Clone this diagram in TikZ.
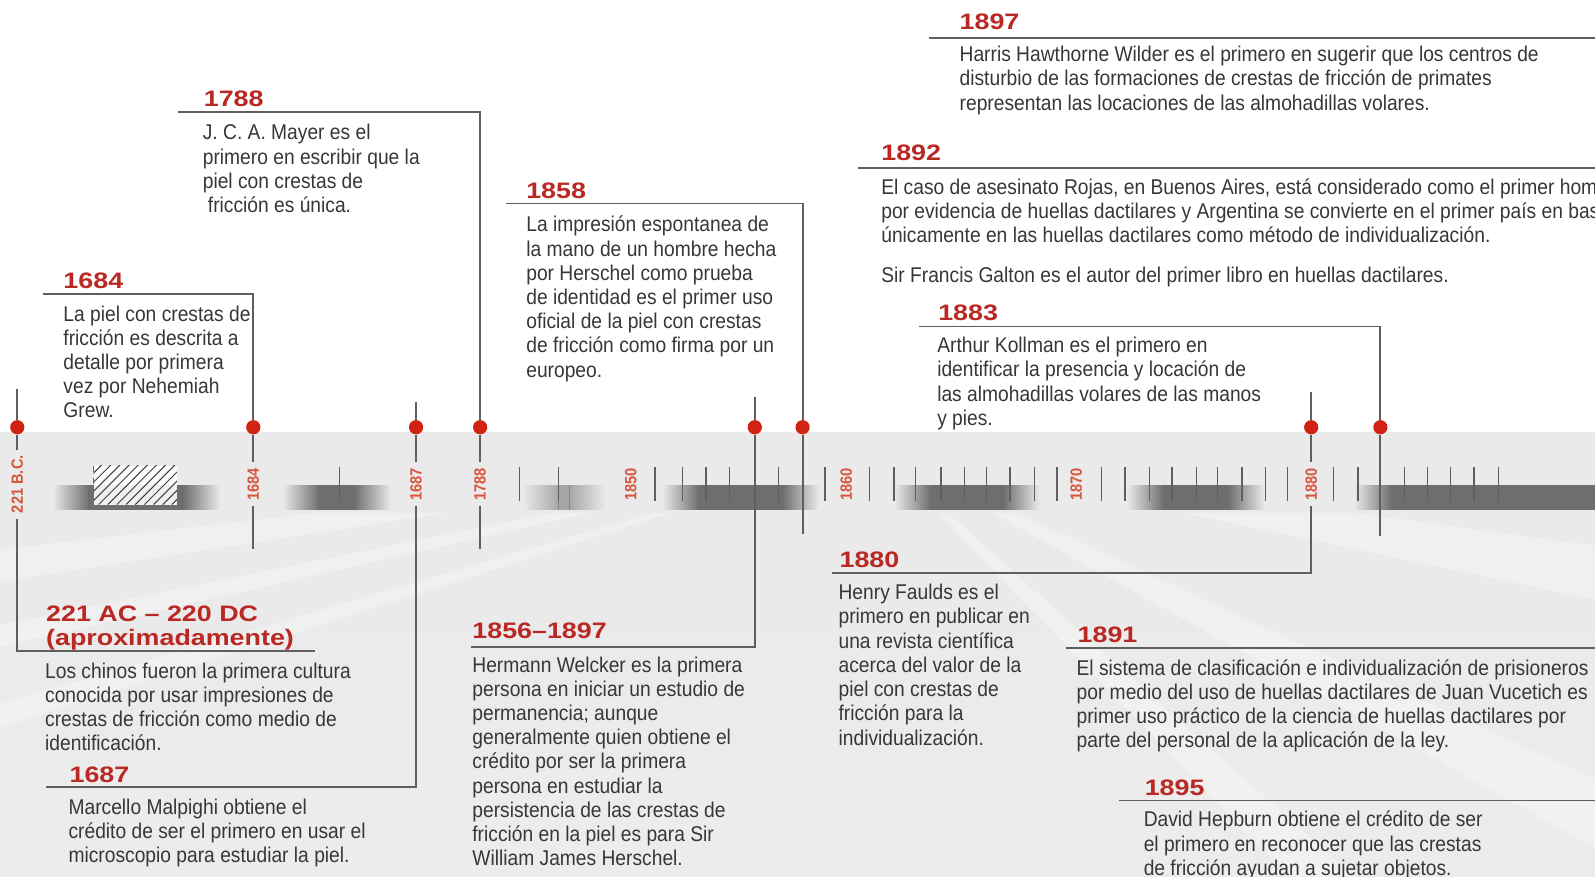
\documentclass[tikz,border=0pt]{standalone}
\usepackage{fontspec}
\setmainfont{Liberation Sans}[FakeStretch=0.9]
\newfontfamily\yearfont{Liberation Sans}[FakeStretch=1.2]
\newfontfamily\labfont{Liberation Sans}[FakeStretch=0.9]
\usetikzlibrary{fadings}
\definecolor{yearred}{RGB}{185,40,35}
\definecolor{txt}{RGB}{55,55,55}
\definecolor{ln}{RGB}{95,95,95}
\definecolor{dotred}{RGB}{208,35,20}
\definecolor{labred}{RGB}{215,85,60}
\definecolor{barc}{RGB}{110,110,110}
\definecolor{bgA}{RGB}{238,238,238}
\definecolor{bgB}{RGB}{234,234,234}
\definecolor{bgC}{RGB}{226,226,226}
\definecolor{bgD}{RGB}{214,214,214}
\definecolor{bgF}{RGB}{242,242,242}
\pgfdeclareverticalshading{bandsh}{100bp}{color(0bp)=(bgA); color(60bp)=(bgB); color(77bp)=(bgB); color(82bp)=(bgC); color(88bp)=(bgD); color(93bp)=(bgC); color(97bp)=(bgF); color(100bp)=(white)}
\tikzfading[name=fadeR, left color=transparent!100, right color=transparent!0]
\tikzfading[name=fadeL, left color=transparent!0, right color=transparent!100]
\pgfdeclarelayer{bg}
\pgfdeclarelayer{lines}
\pgfsetlayers{bg,lines,main}
\newcommand{\dbar}[2]{%
  \fill[barc, path fading=fadeR] (#1,477) rectangle (#1+36,501);
  \fill[barc] (#1+35,477) rectangle (#2-35,501);
  \fill[barc, path fading=fadeL] (#2-36,477) rectangle (#2,501);}
\tikzset{
  year/.style={font=\yearfont\bfseries\fontsize{11}{13}\selectfont, text=yearred, anchor=base west, inner sep=0pt},
  body/.style={font=\fontsize{10.5}{11.9}\selectfont, text=txt, align=left, anchor=north west, inner sep=0pt, execute at begin node={\rule{0pt}{9pt}}},
  dot/.style={circle, fill=dotred, minimum size=7pt, inner sep=0pt},
  lab/.style={font=\labfont\bfseries\fontsize{8}{9}\selectfont, text=labred, rotate=90, inner sep=2.5pt},
  conn/.style={draw=ln, line width=0.9pt},
  tickmark/.style={draw=ln, line width=0.65pt},
}
\begin{document}
\begin{tikzpicture}[x=0.5pt,y=-0.5pt]
\useasboundingbox (0,0) rectangle (1568,862);
% ---------- background ----------
\begin{pgfonlayer}{bg}
\fill[white] (0,0) rectangle (1568,862);
\shade[shading=bandsh] (0,425) rectangle (1568,862);
\begin{scope}
  \clip (0,505) rectangle (1568,862);
  \foreach \a/\b in {140/142,147/149,153/156,160/162,166/168,172/174,177/179,4/6,11/13,18/20,26/28,34/36}
    \fill[white, opacity=0.3] (860,440) -- (\a:1800) -- (\b:1800) -- cycle;
\end{scope}
\dbar{52}{216}
\dbar{278}{384}
\begin{scope}[opacity=0.55]\dbar{514}{595}\end{scope}
\dbar{651}{805}
\dbar{879}{1022}
\dbar{1108}{1243}
\fill[barc, path fading=fadeR] (1331,477) rectangle (1368,501);
\fill[barc] (1367,477) rectangle (1568,501);
% hatch box
\begin{scope}
  \clip (92,458) rectangle (174,496);
  \fill[white, opacity=0.9] (92,458) rectangle (174,496);
  \foreach \i in {0,...,14}
    \draw[black!75, line width=0.5pt] (52+\i*9,496) -- ++(40,-40);
\end{scope}
\draw[black!60, line width=0.4pt, dashed] (92,458) -- (92,496);
% ticks
\foreach \x in {334,511,549,644,671,694,717,765,811,855,879,900,925,948,970,993,1017,1039,1083,1106,1130,1152,1176,1197,1221,1244,1266,1311,1335,1381,1403,1426,1449,1473}
  \draw[tickmark] (\x,459) -- (\x,493);
\end{pgfonlayer}

% ---------- dots ----------
\node[dot] (d221) at (17,420) {};
\node[dot] (d1684) at (249,420) {};
\node[dot] (d1687) at (409,420) {};
\node[dot] (d1788) at (472,420) {};
\node[dot] (d1856) at (742,420) {};
\node[dot] (d1858) at (789,420) {};
\node[dot] (d1880) at (1289,420) {};
\node[dot] (d1883) at (1357,420) {};

% ---------- band labels ----------
\node[lab] (l221) at (17,476) {221 B.C.};
\node[lab] (l1684) at (249,476) {1684};
\node[lab] (l1687) at (409,476) {1687};
\node[lab] (l1788) at (472,476) {1788};
\node[lab] (l1850) at (620,476) {1850};
\node[lab] (l1860) at (832,476) {1860};
\node[lab] (l1870) at (1058,476) {1870};
\node[lab] (l1880) at (1289,476) {1880};

% ---------- coordinates ----------
\coordinate (s221) at (17,382);
\coordinate (k221) at (310,640);
\coordinate (s1687) at (409,395);
\coordinate (k1687) at (45,774);
\coordinate (h1684) at (42,289);
\coordinate (e1684) at (249,540);
\coordinate (h1788) at (175,110);
\coordinate (e1788) at (472,540);
\coordinate (s1856) at (742,390);
\coordinate (k1856) at (463,636);
\coordinate (h1858) at (497,200);
\coordinate (e1858) at (789,525);
\coordinate (s1880) at (1289,385);
\coordinate (k1880) at (818,563);
\coordinate (h1883) at (903,321);
\coordinate (e1883) at (1357,527);
\coordinate (h1897a) at (913,37);
\coordinate (h1897b) at (1568,37);
\coordinate (h1892a) at (843,165);
\coordinate (h1892b) at (1568,165);
\coordinate (h1891a) at (1048,637);
\coordinate (h1891b) at (1568,637);
\coordinate (h1895a) at (1100,787);
\coordinate (h1895b) at (1568,787);

% ---------- texts ----------
\node[year] (t1897) at (943,29) {1897};
\node[body] (b1897) at (943,45) {Harris Hawthorne Wilder es el primero en sugerir que los centros de\\disturbio de las formaciones de crestas de fricción de primates\\representan las locaciones de las almohadillas volares.};

\node[year] (t1892) at (866,158) {1892};
\node[body] (b1892) at (866,175) {El caso de asesinato Rojas, en Buenos Aires, está considerado como el primer homi\\por evidencia de huellas dactilares y Argentina se convierte en el primer país en bas\\únicamente en las huellas dactilares como método de individualización.\\[7.5pt]Sir Francis Galton es el autor del primer libro en huellas dactilares.};

\node[year] (t1883) at (922,315) {1883};
\node[body] (b1883) at (921,331) {Arthur Kollman es el primero en\\identificar la presencia y locación de\\las almohadillas volares de las manos\\y pies.};

\node[year] (t1788) at (200,105) {1788};
\node[body] (b1788) at (199,122) {J. C. A. Mayer es el\\primero en escribir que la\\piel con crestas de\\\hspace*{2.5pt}fricción es única.};

\node[year] (t1858) at (517,195) {1858};
\node[body] (b1858) at (517,212) {La impresión espontanea de\\la mano de un hombre hecha\\por Herschel como prueba\\de identidad es el primer uso\\oficial de la piel con crestas\\de fricción como firma por un\\europeo.};

\node[year] (t1684) at (62,284) {1684};
\node[body] (b1684) at (62,300) {La piel con crestas de\\fricción es descrita a\\detalle por primera\\vez por Nehemiah\\Grew.};

\node[year] (t221a) at (45,611) {221 AC – 220 DC};
\node[year] (t221b) at (45,635) {(aproximadamente)};
\node[body] (b221) at (44,651) {Los chinos fueron la primera cultura\\conocida por usar impresiones de\\crestas de fricción como medio de\\identificación.};

\node[year] (t1687) at (68,769) {1687};
\node[body] (b1687) at (67,785) {Marcello Malpighi obtiene el\\crédito de ser el primero en usar el\\microscopio para estudiar la piel.};

\node[year] (t1856) at (464,628) {1856–1897};
\node[body] (b1856) at (464,645) {Hermann Welcker es la primera\\persona en iniciar un estudio de\\permanencia; aunque\\generalmente quien obtiene el\\crédito por ser la primera\\persona en estudiar la\\persistencia de las crestas de\\fricción en la piel es para Sir\\William James Herschel.};

\node[year] (t1880) at (825,558) {1880};
\node[body] (b1880) at (824,574) {Henry Faulds es el\\primero en publicar en\\una revista científica\\acerca del valor de la\\piel con crestas de\\fricción para la\\individualización.};

\node[year] (t1891) at (1059,632) {1891};
\node[body] (b1891) at (1058,648) {El sistema de clasificación e individualización de prisioneros\\por medio del uso de huellas dactilares de Juan Vucetich es\\primer uso práctico de la ciencia de huellas dactilares por\\parte del personal de la aplicación de la ley.};

\node[year] (t1895) at (1125,782) {1895};
\node[body] (b1895) at (1124,797) {David Hepburn obtiene el crédito de ser\\el primero en reconocer que las crestas\\de fricción ayudan a sujetar objetos.};

% ---------- connectors ----------
\begin{pgfonlayer}{lines}
\draw[conn] (s221) -- (d221);
\draw[conn] (d221) -- (l221.east);
\draw[conn] (l221.west) |- (k221);
\draw[conn] (s1687) -- (d1687);
\draw[conn] (d1687) -- (l1687.east);
\draw[conn] (l1687.west) |- (k1687);
\draw[conn] (h1684) -| (d1684);
\draw[conn] (d1684) -- (l1684.east);
\draw[conn] (l1684.west) -- (e1684);
\draw[conn] (h1788) -| (d1788);
\draw[conn] (d1788) -- (l1788.east);
\draw[conn] (l1788.west) -- (e1788);
\draw[conn] (s1856) -- (d1856);
\draw[conn] (d1856) |- (k1856);
\draw[conn] (h1858) -| (d1858);
\draw[conn] (d1858) -- (e1858);
\draw[conn] (s1880) -- (d1880);
\draw[conn] (d1880) -- (l1880.east);
\draw[conn] (l1880.west) |- (k1880);
\draw[conn] (h1883) -| (d1883);
\draw[conn] (d1883) -- (e1883);
\draw[conn] (h1897a) -- (h1897b);
\draw[conn] (h1892a) -- (h1892b);
\draw[conn] (h1891a) -- (h1891b);
\draw[conn] (h1895a) -- (h1895b);
\end{pgfonlayer}
\end{tikzpicture}
\end{document}
